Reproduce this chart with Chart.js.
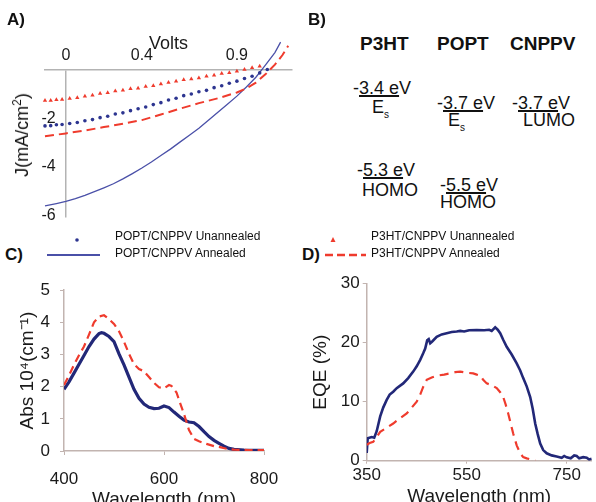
<!DOCTYPE html>
<html>
<head>
<meta charset="utf-8">
<script src="https://cdn.jsdelivr.net/npm/chart.js@4.4.1/dist/chart.umd.min.js"></script>
<style>
  body { margin: 0; width: 596px; height: 502px; overflow: hidden; background: #fff; position: relative;
    font-family: 'Liberation Sans', Arial, sans-serif; color: #111; }
  .box { position: absolute; }
  .t { position: absolute; line-height: 1; white-space: nowrap; }
  .b { font-weight: bold; }
  .lvl { font-size: 18px; }
  .u { text-decoration: underline; text-decoration-thickness: 1.5px; text-underline-offset: 1px; }
  .leg { font-size: 12px; }
</style>
</head>
<body>

<div class="box" style="left:0;top:0;width:300px;height:228px"><canvas id="chartA"></canvas></div>
<div class="box" style="left:0;top:270px;width:296px;height:245px"><canvas id="chartC"></canvas></div>
<div class="box" style="left:296px;top:270px;width:300px;height:245px"><canvas id="chartD"></canvas></div>

<!-- panel letters -->
<div class="t b" style="left:7px;top:11px;font-size:17px">A)</div>
<div class="t b" style="left:308px;top:11px;font-size:17px">B)</div>
<div class="t b" style="left:5px;top:246px;font-size:17px">C)</div>
<div class="t b" style="left:302px;top:246px;font-size:17px">D)</div>

<!-- panel A y title -->
<div class="t" style="left:21px;top:135px;font-size:18px;transform:translate(-50%,-50%) rotate(-90deg)">J(mA/cm<sup style="font-size:12px">2</sup>)</div>

<!-- panel B: energy levels -->
<div class="t b" style="left:360px;top:34px;font-size:19px">P3HT</div>
<div class="t b" style="left:437px;top:34px;font-size:19px">POPT</div>
<div class="t b" style="left:510px;top:34px;font-size:19px">CNPPV</div>

<div class="t lvl" style="left:353px;top:79px">-<span class="u">3.4 e</span>V</div>
<div class="t lvl" style="left:372px;top:98px">E<sub style="font-size:10px">s</sub></div>
<div class="t lvl" style="left:437px;top:94px">-<span class="u">3.7 e</span>V</div>
<div class="t lvl" style="left:448px;top:111px">E<sub style="font-size:10px">s</sub></div>
<div class="t lvl" style="left:512px;top:94px">-<span class="u">3.7 e</span>V</div>
<div class="t lvl" style="left:523px;top:111px">LUMO</div>
<div class="t lvl" style="left:357px;top:161px">-<span class="u">5.3 e</span>V</div>
<div class="t lvl" style="left:362px;top:181px">HOMO</div>
<div class="t lvl" style="left:440px;top:176px">-<span class="u">5.5 e</span>V</div>
<div class="t lvl" style="left:440px;top:193px">HOMO</div>

<!-- shared legend -->
<svg class="box" style="left:0;top:225px" width="596" height="40">
  <circle cx="77" cy="15" r="1.8" fill="#2d3590"/>
  <line x1="47" y1="30" x2="100" y2="30" stroke="#4a50a8" stroke-width="2"/>
  <polygon points="333,12 335.5,17 330.5,17" fill="#ef3b2d"/>
  <line x1="325" y1="30" x2="366" y2="30" stroke="#ef3b2d" stroke-width="2.5" stroke-dasharray="8,4"/>
</svg>
<div class="t leg" style="left:115px;top:230px">POPT/CNPPV Unannealed</div>
<div class="t leg" style="left:115px;top:247px">POPT/CNPPV Annealed</div>
<div class="t leg" style="left:371px;top:230px">P3HT/CNPPV Unannealed</div>
<div class="t leg" style="left:371px;top:247px">P3HT/CNPPV Annealed</div>

<script>
const blue = '#2d3590';
const blueThin = '#4a50a8';
const navy = '#222878';
const red = '#ef3b2d';
const axisGray = '#b3b3b3';
const axisTan = '#c2b4b0';
const textColor = '#1a1a1a';

Chart.defaults.font.family = "'Liberation Sans', Arial, sans-serif";
Chart.defaults.color = textColor;

// ---- Panel A: J-V curves ----
const voltTicks = [0, 0.4, 0.9];
const currentTicks = [-6, -4, -2];

const vPoptUnannealed = [-0.11, -0.08, -0.05, -0.02, 0.02, 0.06, 0.10, 0.14, 0.18, 0.22, 0.26, 0.30, 0.34, 0.38, 0.42, 0.46, 0.50, 0.54, 0.58, 0.62, 0.66, 0.70, 0.74, 0.78, 0.82, 0.86, 0.90, 0.94, 0.98, 1.02, 1.06, 1.10, 1.13, 1.16, 1.19];
const jPoptUnannealed = [-2.31, -2.30, -2.26, -2.25, -2.21, -2.17, -2.10, -2.05, -1.97, -1.91, -1.82, -1.77, -1.68, -1.60, -1.53, -1.43, -1.35, -1.24, -1.17, -1.06, -0.99, -0.90, -0.84, -0.73, -0.65, -0.55, -0.46, -0.35, -0.26, -0.12, 0.02, 0.27, 0.50, 0.72, 1.00];

const vP3htUnannealed = [-0.11, -0.08, -0.05, -0.02, 0.02, 0.06, 0.10, 0.14, 0.18, 0.22, 0.26, 0.30, 0.34, 0.38, 0.42, 0.46, 0.50, 0.54, 0.58, 0.62, 0.66, 0.70, 0.74, 0.78, 0.82, 0.86, 0.90, 0.94, 0.98, 1.02, 1.06, 1.10, 1.13, 1.16];
const jP3htUnannealed = [-1.26, -1.26, -1.23, -1.22, -1.18, -1.15, -1.08, -1.04, -0.97, -0.94, -0.87, -0.84, -0.78, -0.75, -0.68, -0.65, -0.58, -0.52, -0.47, -0.40, -0.37, -0.33, -0.26, -0.22, -0.14, -0.11, -0.05, 0.02, 0.09, 0.16, 0.32, 0.52, 0.72, 0.98];

const vP3htAnnealed = [-0.11, 0, 0.1, 0.2, 0.3, 0.4, 0.5, 0.6, 0.7, 0.8, 0.9, 0.95, 1.0, 1.05, 1.1, 1.14, 1.17];
const jP3htAnnealed = [-2.74, -2.62, -2.50, -2.36, -2.22, -2.07, -1.84, -1.60, -1.37, -1.17, -0.93, -0.76, -0.52, -0.18, 0.22, 0.62, 1.00];

const vPoptAnnealed = [-0.11, -0.05, 0, 0.05, 0.1, 0.15, 0.2, 0.25, 0.3, 0.35, 0.4, 0.45, 0.5, 0.55, 0.6, 0.65, 0.7, 0.75, 0.8, 0.85, 0.9, 0.95, 1.0, 1.05, 1.1, 1.13];
const jPoptAnnealed = [-5.62, -5.52, -5.43, -5.32, -5.18, -5.03, -4.87, -4.70, -4.50, -4.28, -4.05, -3.80, -3.53, -3.27, -2.98, -2.70, -2.41, -2.08, -1.75, -1.42, -1.08, -0.70, -0.30, 0.20, 0.72, 1.15];

// ---- Panel C: absorbance ----
const wlPoptAbs = [400, 410, 420, 430, 440, 450, 460, 470, 475, 480, 490, 500, 510, 520, 530, 540, 550, 560, 570, 580, 590, 600, 610, 620, 630, 640, 650, 660, 670, 680, 690, 700, 710, 720, 730, 740, 760, 780, 800];
const absPopt = [1.92, 2.15, 2.42, 2.70, 2.97, 3.25, 3.48, 3.65, 3.68, 3.66, 3.56, 3.40, 3.02, 2.68, 2.30, 1.92, 1.64, 1.46, 1.36, 1.32, 1.33, 1.40, 1.35, 1.21, 1.08, 0.96, 0.90, 0.88, 0.76, 0.60, 0.45, 0.33, 0.24, 0.15, 0.08, 0.05, 0.03, 0.02, 0.02];

const wlP3htAbs = [400, 410, 420, 430, 440, 450, 460, 470, 480, 490, 500, 510, 520, 530, 540, 550, 560, 570, 580, 590, 600, 610, 615, 625, 632, 640, 650, 660, 670, 685, 700, 712, 725, 740, 770, 800];
const absP3ht = [2.05, 2.35, 2.68, 2.98, 3.25, 3.62, 4.00, 4.18, 4.22, 4.10, 3.95, 3.72, 3.40, 3.02, 2.70, 2.55, 2.48, 2.30, 2.12, 1.98, 1.95, 2.05, 2.02, 1.82, 1.50, 1.15, 0.65, 0.38, 0.30, 0.22, 0.15, 0.12, 0.07, 0.04, 0.03, 0.03];

// ---- Panel D: EQE ----
const eqeWlTicks = [350, 550, 750];

const wlPoptEqe = [350, 352, 360, 365, 370, 377, 383, 390, 396, 403, 410, 423, 433, 443, 450, 457, 463, 467, 471, 474, 477, 481, 490, 500, 510, 520, 530, 537, 545, 555, 570, 585, 595, 600, 607, 612, 617, 623, 630, 640, 650, 657, 663, 670, 677, 682, 687, 692, 697, 703, 710, 720, 730, 740, 745, 750, 758, 765, 770, 775, 783, 790, 795, 800];
const eqePopt = [1.3, 3.8, 4.0, 3.9, 5.0, 7.5, 9.0, 10.3, 11.2, 11.7, 12.3, 13.1, 14.0, 15.1, 16.0, 17.1, 18.2, 19.0, 20.4, 20.6, 19.9, 20.2, 21.0, 21.4, 21.6, 21.8, 21.9, 22.0, 21.9, 22.1, 22.15, 22.1, 22.2, 22.0, 22.6, 22.2, 21.6, 20.5, 19.3, 18.0, 16.5, 15.3, 14.0, 12.6, 10.8, 8.8, 6.3, 4.5, 2.9, 1.8, 1.25, 0.9, 0.7, 0.5, 0.8, 0.57, 0.4, 0.9, 0.8, 0.4, 0.6, 0.5, 0.2, 0.34];

const wlP3htEqe = [350, 356, 363, 370, 377, 390, 403, 415, 430, 440, 450, 457, 463, 467, 470, 480, 490, 505, 517, 527, 537, 550, 563, 570, 577, 583, 590, 600, 610, 617, 623, 628, 633, 638, 643, 650, 657, 663, 670, 680, 687];
const eqeP3ht = [2.7, 3.0, 3.2, 4.0, 4.9, 5.6, 6.3, 7.1, 8.0, 9.0, 10.0, 11.2, 12.5, 13.2, 13.7, 14.1, 14.4, 14.6, 14.8, 15.0, 15.1, 14.9, 14.8, 14.6, 14.5, 13.7, 13.1, 12.8, 12.3, 11.6, 10.8, 9.5, 8.0, 6.3, 4.6, 2.6, 1.25, 0.6, 0.4, 0.15, 0.1];

function pts(xs, ys) {
  return xs.map((x, i) => ({ x: x, y: ys[i] }));
}

const baseOptions = {
  animation: false,
  responsive: true,
  maintainAspectRatio: false,
  plugins: { legend: { display: false }, tooltip: { enabled: false } },
};

// Panel A
// the J axis crosses at V = 0, so it is drawn as the x grid line of the 0 tick
new Chart(document.getElementById('chartA'), {
  type: 'scatter',
  data: {
    datasets: [
      { data: pts(vPoptUnannealed, jPoptUnannealed), showLine: false, pointStyle: 'circle', pointRadius: 1.8,
        backgroundColor: blue, borderColor: blue, borderWidth: 0, clip: false },
      { data: pts(vP3htUnannealed, jP3htUnannealed), showLine: false, pointStyle: 'triangle', pointRadius: 2.5,
        backgroundColor: red, borderColor: red, borderWidth: 0, clip: false },
      { data: pts(vP3htAnnealed, jP3htAnnealed), showLine: true, pointRadius: 0, borderColor: red,
        borderWidth: 2, borderDash: [9, 5], clip: false },
      { data: pts(vPoptAnnealed, jPoptAnnealed), showLine: true, pointRadius: 0, borderColor: blueThin,
        borderWidth: 1.3, clip: false },
    ],
  },
  options: {
    ...baseOptions,
    layout: { padding: { left: 0, right: 8, top: 0, bottom: 10.4 } },
    scales: {
      x: {
        type: 'linear', position: 'top', min: -0.11, max: 1.19,
        afterBuildTicks: (s) => { s.ticks = voltTicks.map((v) => ({ value: v })); },
        afterFit: (s) => { s.height = 70; },
        grid: {
          display: true, drawOnChartArea: true, drawTicks: false, lineWidth: 1.5,
          color: (ctx) => (ctx.tick && ctx.tick.value === 0 ? axisGray : 'rgba(0,0,0,0)'),
        },
        border: { color: axisGray, width: 1.5 },
        ticks: { font: { size: 16 }, color: textColor, padding: 5, callback: (v) => String(v) },
        title: { display: true, text: 'Volts', font: { size: 18 }, color: textColor, padding: { top: 33, bottom: 0 } },
      },
      y: {
        type: 'linear', position: 'left', min: -6.1, max: 0,
        afterBuildTicks: (s) => { s.ticks = currentTicks.map((v) => ({ value: v })); },
        afterFit: (s) => { s.width = 45; },
        grid: { display: false, drawTicks: false },
        border: { display: false },
        // mirrored so the labels can sit inside the plot, just left of the V = 0 line
        ticks: { mirror: true, crossAlign: 'far', font: { size: 16 }, color: textColor, padding: -3.5,
          callback: (v) => String(v) },
      },
    },
  },
});

// Panel C
new Chart(document.getElementById('chartC'), {
  type: 'scatter',
  data: {
    datasets: [
      { data: pts(wlP3htAbs, absP3ht), showLine: true, pointRadius: 0, borderColor: red, borderWidth: 2.2, borderDash: [8, 5] },
      { data: pts(wlPoptAbs, absPopt), showLine: true, pointRadius: 0, borderColor: navy, borderWidth: 3.2 },
    ],
  },
  options: {
    ...baseOptions,
    layout: { padding: { left: 0, right: 32, top: 16, bottom: 0 } },
    scales: {
      x: {
        type: 'linear', min: 400, max: 800,
        afterFit: (s) => { s.height = 64; },
        grid: { display: true, drawOnChartArea: false, tickLength: 4, color: axisTan },
        border: { color: axisTan, width: 1.5 },
        ticks: { stepSize: 200, font: { size: 17 }, color: textColor, padding: 14 },
        title: { display: true, text: 'Wavelength (nm)', font: { size: 19 }, color: textColor, padding: { top: 0, bottom: 3.6 } },
      },
      y: {
        type: 'linear', min: 0, max: 5,
        afterFit: (s) => { s.width = 64; },
        grid: { display: true, drawOnChartArea: false, tickLength: 4, color: axisTan },
        border: { color: axisTan, width: 1.5 },
        ticks: { stepSize: 1, font: { size: 17 }, color: textColor, padding: 10 },
        title: { display: true, text: 'Abs 10⁴(cm⁻¹)', font: { size: 19 }, color: textColor, padding: { top: 16.6, bottom: 0 } },
      },
    },
  },
});

// Panel D
new Chart(document.getElementById('chartD'), {
  type: 'scatter',
  data: {
    datasets: [
      { data: pts(wlP3htEqe, eqeP3ht), showLine: true, pointRadius: 0, borderColor: red, borderWidth: 2.2, borderDash: [9, 6] },
      { data: pts(wlPoptEqe, eqePopt), showLine: true, pointRadius: 0, borderColor: navy, borderWidth: 2.6 },
    ],
  },
  options: {
    ...baseOptions,
    layout: { padding: { left: 0, right: 4.3, top: 13.7, bottom: 0 } },
    scales: {
      x: {
        type: 'linear', min: 350, max: 800,
        afterBuildTicks: (s) => { s.ticks = eqeWlTicks.map((v) => ({ value: v })); },
        afterFit: (s) => { s.height = 54.3; },
        grid: { display: true, drawOnChartArea: false, tickLength: 3, color: axisTan },
        border: { color: axisTan, width: 1.5 },
        ticks: { font: { size: 17 }, color: textColor, padding: 1, callback: (v) => String(v) },
        title: { display: true, text: 'Wavelength (nm)', font: { size: 19 }, color: textColor, padding: { top: 0, bottom: 6.6 } },
      },
      y: {
        type: 'linear', min: 0, max: 30,
        afterFit: (s) => { s.width = 70.7; },
        grid: { display: true, drawOnChartArea: false, tickLength: 4, color: axisTan },
        border: { color: axisTan, width: 1.5 },
        ticks: { stepSize: 10, font: { size: 17 }, color: textColor, padding: 3 },
        title: { display: true, text: 'EQE (%)', font: { size: 19 }, color: textColor, padding: { top: 13.6, bottom: 0 } },
      },
    },
  },
});
</script>
</body>
</html>
